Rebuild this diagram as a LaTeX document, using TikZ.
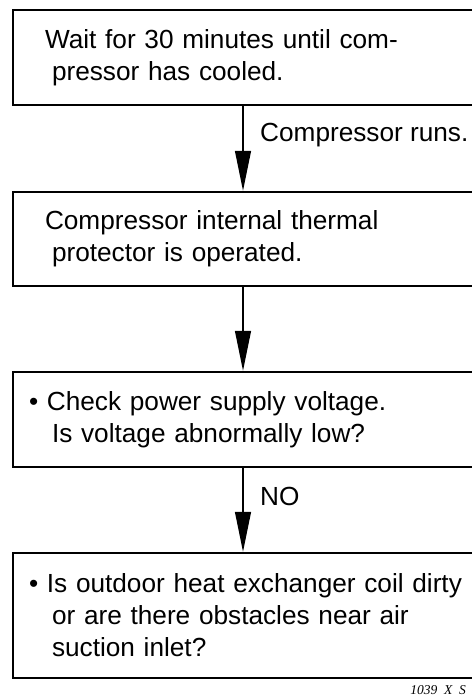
\documentclass[tikz,border=0pt]{standalone}
\usepackage{fontspec}
\setmainfont{Liberation Sans}
\newfontfamily\tagfont{Liberation Serif}
\usetikzlibrary{arrows.meta,positioning}

\begin{document}
\begin{tikzpicture}[x=1pt,y=1pt,every node/.style={font=\fontsize{26.2}{32}\selectfont, align=left}]
      \useasboundingbox (0,0) rectangle (471,-698);
      \node[draw=black,line width=2.5pt,minimum width=460pt,minimum height=95pt,text width=460pt,inner xsep=0pt] (b1) at (243,-57.5) {
        \hspace*{32pt}Wait for 30 minutes until com-\\ \hspace*{39pt}pressor has cooled.
      };
      \node[draw=black,line width=2.5pt,minimum width=460pt,minimum height=94pt,text width=460pt,inner xsep=0pt] (b2) at (243,-239) {
        \hspace*{32pt}Compressor internal thermal\\ \hspace*{39pt}protector is operated.
      };
      \node[draw=black,line width=2.5pt,minimum width=460pt,minimum height=95pt,text width=460pt,inner xsep=0pt] (b3) at (243,-419.5) {
        \hspace*{16pt}\textbullet\ Check power supply voltage.\\ \hspace*{39pt}Is voltage abnormally low?
      };
      \node[draw=black,line width=2.5pt,minimum width=460pt,minimum height=125pt,text width=460pt,inner xsep=0pt] (b4) at (243,-615.5) {
        \hspace*{16pt}\textbullet\ Is outdoor heat exchanger coil dirty\\ \hspace*{39pt}or are there obstacles near air\\ \hspace*{39pt}suction inlet?
      };
      \node[anchor=base west,inner sep=0pt] (runs) at (260,-142) {Compressor runs.};
      \node[anchor=base west,inner sep=0pt] (no) at (260,-505) {NO};
      \node[anchor=base east,inner sep=0pt,font=\tagfont\itshape\fontsize{13.5}{15}\selectfont] (tag) at (466,-694) {1039~~X~~S};
      
      \foreach \x/\y in {b1/b2,b2/b3,b3/b4}
        \draw[-{Triangle[length=40pt,width=16pt]},line width=1.3pt] (\x) -- (\y);
    \end{tikzpicture}
\end{document}
